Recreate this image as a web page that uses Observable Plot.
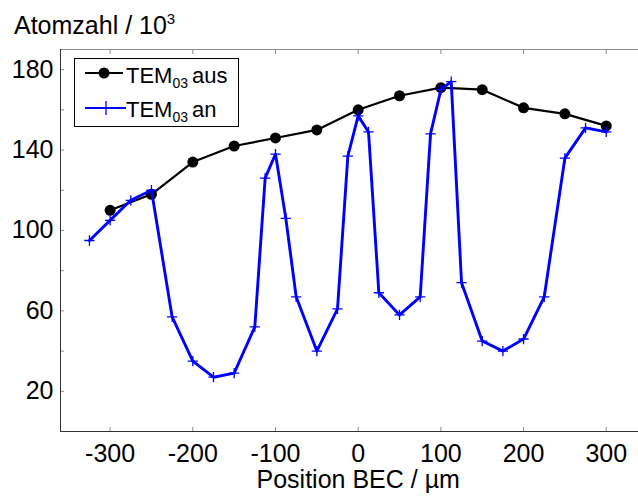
<!DOCTYPE html>
<html><head><meta charset="utf-8">
<script src="https://cdn.jsdelivr.net/npm/d3@7"></script>
<script src="https://cdn.jsdelivr.net/npm/@observablehq/plot@0.6"></script>
<style>html,body{margin:0;padding:0;background:#fff} svg{display:block}</style>
</head><body><div id="chart"></div>
<script>
// TEM03 aus (black, dots)
const ausX = [-300,-250,-200,-150,-100,-50,0,50,100,150,200,250,300];
const ausY = [110,118,134,142,146,150,160,167,171,170,161,158,152];
// TEM03 an (blue, crosses)
const anX = [-325,-300,-275,-250,-225,-200,-175,-150,-125,-112.5,-100,-87.5,-75,-50,-25,-12.5,0,12.5,25,50,75,87.5,100,112.5,125,150,175,200,225,250,275,300];
const anY = [95,105,115,120,57,35,27,29,52,126,138,106,67,40,61,137,157,149,69,58,67,148,170,174,74,45,40,46,67,136,151,149];
const xTicks = [-300,-200,-100,0,100,200,300];
const yTicks = [20,60,100,140,180];
const yMinorTicks = [0,20,40,60,80,100,120,140,160,180];
const seriesNames = ["aus","an"];
const xLabel = "Position BEC / µm";
const yLabel = "Atomzahl / 10";
const yLabelSup = "3";

const font = "'Liberation Sans', Arial, sans-serif";
const tickGray = "#8c8c8c";
const axisDark = "#333333";

const plot = Plot.plot({
  width: 638, height: 499,
  marginLeft: 60, marginRight: 0, marginTop: 49, marginBottom: 68,
  style: {fontFamily: font, fontSize: "25px", color: "black", background: "white", overflow: "visible"},
  x: {domain: [-360, 339]},
  y: {domain: [0, 190]},
  marks: [
    Plot.ruleY([190], {stroke: tickGray, strokeWidth: 1}),
    Plot.axisX({anchor: "top", ticks: xTicks, tickSize: -4, text: null, stroke: tickGray, label: null}),
    Plot.axisX({anchor: "bottom", ticks: xTicks, tickSize: -4, text: null, stroke: tickGray, label: null}),
    Plot.axisX({anchor: "bottom", ticks: xTicks, tickSize: 0, tickPadding: 13, label: null, tickFormat: d => String(d), fontSize: 25, fill: "black"}),
    Plot.axisY({anchor: "left", ticks: yMinorTicks, tickSize: -4, text: null, stroke: tickGray, label: null}),
    Plot.axisY({anchor: "left", ticks: yTicks, tickSize: 0, tickPadding: 7, label: null, tickFormat: d => String(d), fontSize: 25, fill: "black"}),
    Plot.ruleX([-360], {stroke: axisDark, strokeWidth: 1}),
    Plot.ruleY([0], {stroke: axisDark, strokeWidth: 1}),
    Plot.text([xLabel], {x: () => 0, frameAnchor: "bottom", lineAnchor: "middle", dy: 48, text: d => d, fontSize: 25, fill: "black"}),
    Plot.line(ausY, {x: ausX, y: ausY, stroke: "black", strokeWidth: 2.2}),
    Plot.dot(ausY, {x: ausX, y: ausY, r: 5.5, fill: "black", stroke: "none"}),
    Plot.line(anY, {x: anX, y: anY, stroke: "#0000ff", strokeWidth: 2.9}),
    Plot.dot(anY, {x: anX, y: anY, symbol: "plus", r: 3.4, stroke: "#0000ff", strokeWidth: 1.3})
  ]
});
document.getElementById("chart").appendChild(plot);

const svg = d3.select(plot);
// y-axis title with superscript
const t = svg.append("text").attr("x", 14).attr("y", 34).attr("text-anchor", "start")
  .attr("font-family", font).attr("font-size", 25).attr("fill", "black");
t.append("tspan").text(yLabel);
t.append("tspan").attr("font-size", 15).attr("dy", -10).text(yLabelSup);

// legend
const lg = svg.append("g").attr("font-family", font).attr("fill", "black").attr("text-anchor", "start");
lg.append("rect").attr("x", 74.5).attr("y", 58.5).attr("width", 164).attr("height", 68)
  .attr("fill", "white").attr("stroke", "black").attr("stroke-width", 1);
lg.append("line").attr("x1", 85).attr("x2", 123).attr("y1", 73).attr("y2", 73)
  .attr("stroke", "black").attr("stroke-width", 2);
lg.append("circle").attr("cx", 104).attr("cy", 73).attr("r", 5.5).attr("fill", "black");
lg.append("line").attr("x1", 85).attr("x2", 126).attr("y1", 108).attr("y2", 108)
  .attr("stroke", "#0000ff").attr("stroke-width", 2);
lg.append("line").attr("x1", 106).attr("x2", 106).attr("y1", 101).attr("y2", 115)
  .attr("stroke", "#0000ff").attr("stroke-width", 1.3);
const rows = [{y: 82.5, name: seriesNames[0]}, {y: 117, name: seriesNames[1]}];
rows.forEach(r => {
  const tx = lg.append("text").attr("x", 126).attr("y", r.y).attr("font-size", 22).attr("text-anchor", "start");
  tx.append("tspan").text("TEM");
  tx.append("tspan").attr("font-size", 14).attr("dy", 5).text("03");
  tx.append("tspan").attr("dy", -5).attr("dx", 4).text(r.name);
});
</script></body></html>
